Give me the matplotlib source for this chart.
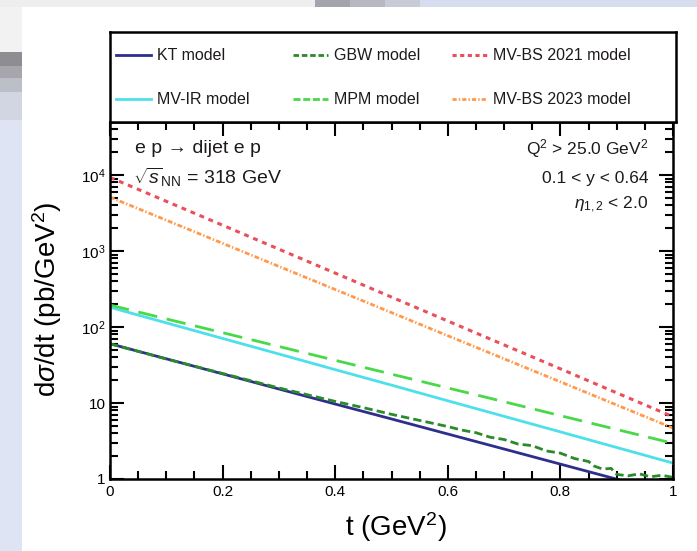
import matplotlib
matplotlib.use("Agg")
import matplotlib.pyplot as plt
from matplotlib.patches import Rectangle
from matplotlib.lines import Line2D
from matplotlib.ticker import LogLocator, NullFormatter, MultipleLocator, FixedLocator

plt.rcParams['font.family'] = ['Liberation Sans', 'DejaVu Sans']
plt.rcParams['mathtext.fontset'] = 'custom'
plt.rcParams['mathtext.rm'] = 'Liberation Sans'
plt.rcParams['mathtext.it'] = 'Liberation Sans:italic'
plt.rcParams['mathtext.sf'] = 'Liberation Sans'
plt.rcParams['lines.scale_dashes'] = False

# momentum transfer t (GeV^2) and model curves
t = [0.0, 0.1, 0.2, 0.3, 0.4, 0.5, 0.6, 0.7, 0.8, 0.9, 1.0]
kt = [60.3, 38.2, 24.2, 15.3, 9.7, 6.17, 3.91, 2.48, 1.57, 0.995, 0.63]
mv_ir = [182, 113.5, 70.8, 44.2, 27.5, 17.2, 10.7, 6.68, 4.17, 2.60, 1.62]
mpm = [195, 128, 84.3, 55.5, 36.5, 24.0, 15.8, 10.4, 6.82, 4.49, 2.95]
mvbs_2021 = [9330, 4520, 2190, 1060, 513, 248, 120, 58.2, 28.2, 13.6, 6.6]
mvbs_2023 = [5130, 2550, 1265, 628, 312, 155, 76.9, 38.2, 19.0, 9.42, 4.68]

# GBW is noisy at large t, so it has its own grid
t_gbw = [0.0, 0.1, 0.2, 0.3, 0.4, 0.45, 0.5, 0.55, 0.6, 0.625, 0.65, 0.675,
         0.7, 0.725, 0.75, 0.775, 0.8, 0.825, 0.85, 0.86, 0.875, 0.89, 0.9,
         0.92, 0.94, 0.96, 0.98, 1.0]
gbw = [60.3, 38.0, 24.5, 15.8, 10.5, 8.7, 7.1, 5.9, 4.9, 4.4, 4.07, 3.55,
       3.31, 2.88, 2.75, 2.34, 2.19, 1.86, 1.70, 1.48, 1.35, 1.38, 1.15,
       1.10, 1.17, 1.07, 1.12, 1.05]

x_ticks = [0, 0.2, 0.4, 0.6, 0.8, 1.0]
x_tick_labels = ["0", "0.2", "0.4", "0.6", "0.8", "1"]
y_ticks = [1, 10, 100, 1000, 10000]
y_tick_labels = ["1", "10", "$10^{2}$", "$10^{3}$", "$10^{4}$"]

W, H = 697, 551


def fx(px):
    return px / W


def fy(py):
    return 1 - py / H


fig = plt.figure(figsize=(W / 100, H / 100), dpi=100)
fig.patch.set_facecolor("#dfe4f4")

# slide background bits
def rect(x0, y0, x1, y1, color):
    fig.add_artist(Rectangle((fx(x0), fy(y1)), fx(x1) - fx(x0), fy(y0) - fy(y1),
                             transform=fig.transFigure, color=color, lw=0, zorder=0))

rect(0, 0, 697, 7, "#d6ddef")
rect(0, 0, 315, 7, "#eeeeee")
rect(315, 0, 350, 7, "#a4a4ac")
rect(350, 0, 385, 7, "#b8b8c2")
rect(385, 0, 420, 7, "#c8cad6")
rect(0, 7, 22, 52, "#f2f2f2")
rect(0, 52, 22, 66, "#8e8e92")
rect(0, 66, 22, 78, "#a6a6ac")
rect(0, 78, 22, 92, "#bcbec8")
rect(0, 92, 22, 120, "#d2d6e2")
rect(22, 7, 697, 551, "white")

# main axes
ax = fig.add_axes([fx(110), fy(479), fx(673) - fx(110), fy(122) - fy(479)])
ax.set_facecolor("white")

ax.plot(t, kt, color="#2e2e8c", lw=2.0, solid_capstyle="butt")
ax.plot(t_gbw, gbw, color="#2b8a2b", lw=2.0, dashes=(6, 3))
ax.plot(t, mvbs_2021, color="#ea4f5a", lw=2.2, dashes=(3.5, 3.5))
ax.plot(t, mv_ir, color="#4ee0ea", lw=2.0)
ax.plot(t, mpm, color="#48d848", lw=2.0, dashes=(14, 7))
ax.plot(t, mvbs_2023, color="#ff9a4c", lw=2.0, dashes=(3.5, 1.5, 1, 1.5))

ax.set_yscale("log")
ax.set_xlim(0, 1)
ax.set_ylim(1, 5.0e4)

ax.xaxis.set_major_locator(FixedLocator(x_ticks))
ax.set_xticklabels(x_tick_labels)
ax.xaxis.set_minor_locator(MultipleLocator(0.05))
ax.yaxis.set_major_locator(FixedLocator(y_ticks))
ax.set_yticklabels(y_tick_labels)
ax.yaxis.set_minor_locator(LogLocator(base=10, subs=range(2, 10)))
ax.yaxis.set_minor_formatter(NullFormatter())

ax.tick_params(which="both", direction="in", top=True, right=True, width=1.5, labelsize=11)
ax.tick_params(which="major", length=10)
ax.tick_params(which="minor", length=5.5)
ax.tick_params(axis="x", pad=4)
ax.tick_params(axis="y", pad=3)
for s in ax.spines.values():
    s.set_linewidth(1.8)

txt = "#1e1a1a"
ax.text(0.044, 0.927, "e p \u2192 dijet e p", transform=ax.transAxes,
        fontsize=14, va="center", ha="left", color=txt)
ax.text(0.04, 0.846, r"$\sqrt{s}_{\mathregular{NN}}$ = 318 GeV", transform=ax.transAxes,
        fontsize=14, va="center", ha="left", color=txt)
ax.text(0.957, 0.927, r"Q$^{2}$ > 25.0 GeV$^{2}$", transform=ax.transAxes,
        fontsize=12.5, va="center", ha="right", color=txt)
ax.text(0.957, 0.843, "0.1 < y < 0.64", transform=ax.transAxes,
        fontsize=12.5, va="center", ha="right", color=txt)
ax.text(0.957, 0.767, r"$\eta_{1,2}$ < 2.0", transform=ax.transAxes,
        fontsize=12.5, va="center", ha="right", color=txt)

fig.text(fx(396), fy(527), r"t (GeV$^{2}$)", fontsize=20, ha="center", va="center")
fig.text(fx(47), fy(299), r"d$\sigma$/dt (pb/GeV$^{2}$)", fontsize=20,
         ha="center", va="center", rotation=90)

# legend box sitting on top of the axes
lax = fig.add_axes([fx(110), fy(122), fx(676) - fx(110), fy(32) - fy(122)])
lax.set_xlim(110, 676)
lax.set_ylim(122, 32)
lax.set_xticks([])
lax.set_yticks([])
for s in lax.spines.values():
    s.set_linewidth(1.8)

labels = ["KT model", "GBW model", "MV-BS 2021 model",
          "MV-IR model", "MPM model", "MV-BS 2023 model"]
lines = ax.get_lines()
col_x = [116, 293, 452]
row_y = [55, 99]
legend_dashes = {1: (4, 2), 2: (3, 2.5), 4: (5, 2), 5: (3, 1.5, 1, 1.5)}
for i, ln in enumerate(lines):
    x0 = col_x[i % 3]
    y0 = row_y[i // 3]
    h = Line2D([x0, x0 + 35], [y0, y0], color=ln.get_color(), lw=ln.get_linewidth(),
               linestyle=ln.get_linestyle())
    if i in legend_dashes:
        h.set_dashes(legend_dashes[i])
    lax.add_line(h)
    lax.text(x0 + 41, y0, labels[i], fontsize=11.5, va="center", ha="left", color=txt)

fig.savefig("out.png", dpi=100, facecolor=fig.get_facecolor())
